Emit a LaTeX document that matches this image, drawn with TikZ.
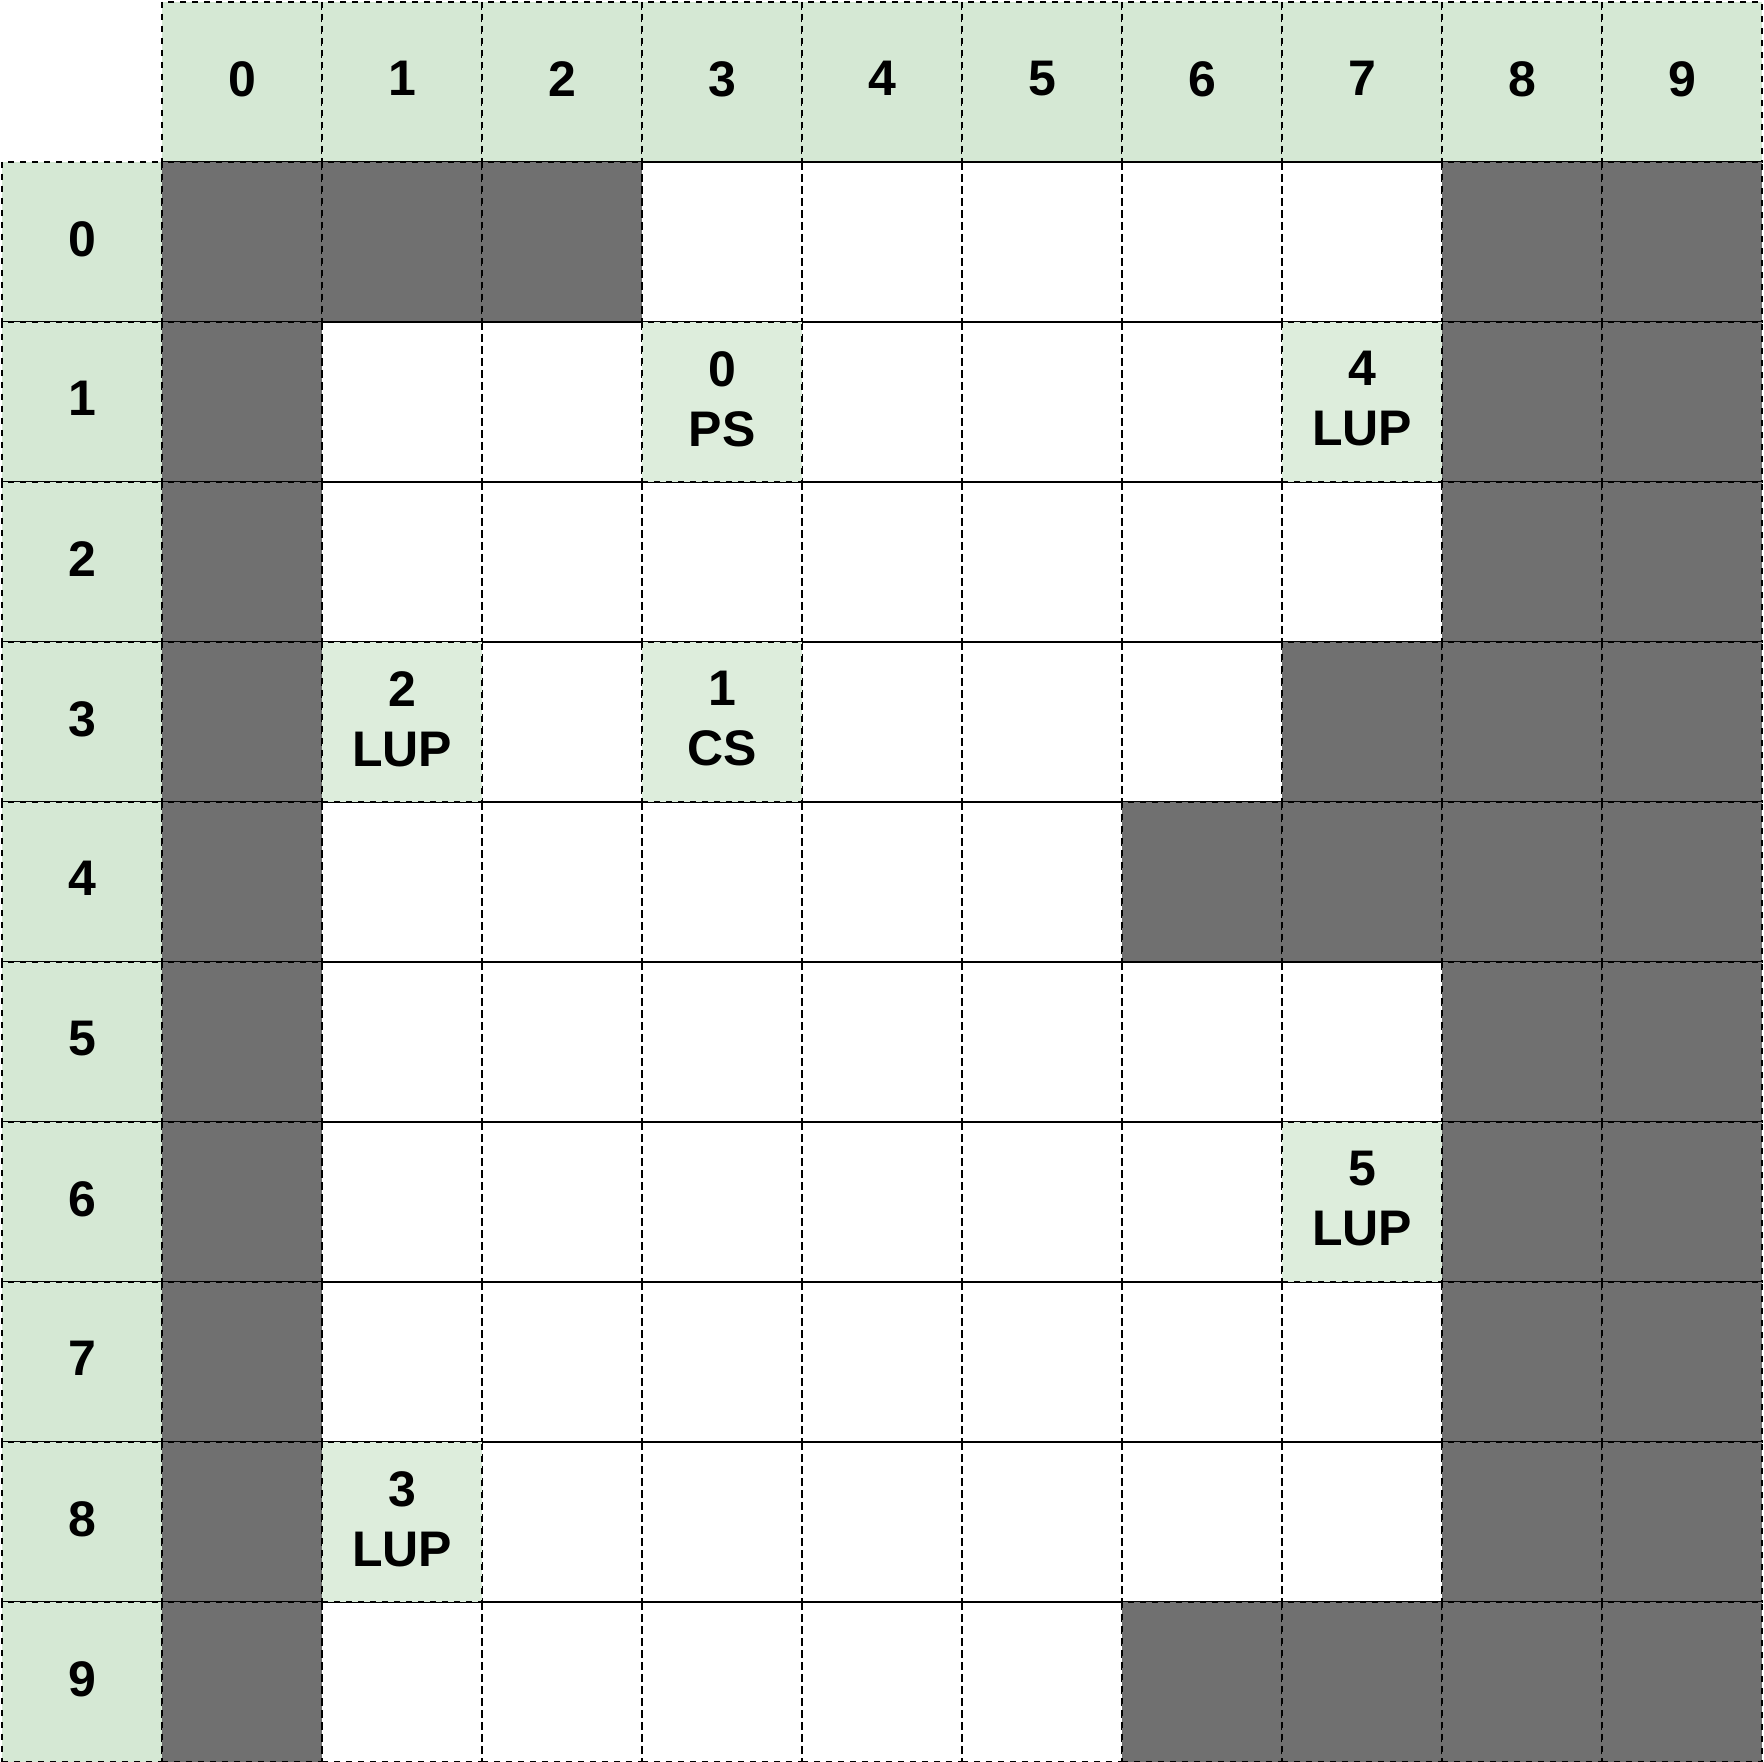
\documentclass[tikz,border=0pt]{standalone}
\usepackage{fontspec}
\setmainfont{Liberation Sans}
\usepackage{xcolor}
\usepackage{tikz}
\definecolor{HeadGreen}{RGB}{213,232,212}
\definecolor{TagGreen}{RGB}{221,237,220}
\definecolor{WallGray}{RGB}{112,112,112}
\definecolor{LineGray}{RGB}{51,51,51}
\tikzstyle{cell}=[rectangle,minimum size=40pt,inner sep=0pt,outer sep=0pt,draw=black,line width=0.5pt,dash pattern=on 1.5pt off 1.5pt,font=\fontsize{12.5}{15}\selectfont\bfseries,align=center,text depth=1.7pt]
\tikzstyle{head}=[cell,fill=HeadGreen]
\tikzstyle{wall}=[cell,fill=WallGray]
\tikzstyle{tag}=[cell,fill=TagGreen]
\tikzstyle{floorcell}=[cell]
\tikzset{rowline/.style={draw=LineGray,line width=0.5pt}}

\begin{document}
\begin{tikzpicture}[x=40pt,y=-40pt]
    \useasboundingbox (-0.5pt,0.5pt) rectangle (440.5pt,-440pt);

    % solid row lines
    \foreach \y in {3,...,10}
        \draw [rowline] (1,\y) -- (11,\y);

    % headers
    \foreach \i in {0,...,9} {
        \node [head] (h\i) at (\i+1.5,0.5) {\i};
        \node [head] (v\i) at (0.5,\i+1.5) {\i};
    }

    % 0 = floor, 1 = wall, 2 = tagged
    \foreach \r/\map in {0/{1,1,1,0,0,0,0,0,1,1},
                         1/{1,0,0,2,0,0,0,2,1,1},
                         2/{1,0,0,0,0,0,0,0,1,1},
                         3/{1,2,0,2,0,0,0,1,1,1},
                         4/{1,0,0,0,0,0,1,1,1,1},
                         5/{1,0,0,0,0,0,0,0,1,1},
                         6/{1,0,0,0,0,0,0,2,1,1},
                         7/{1,0,0,0,0,0,0,0,1,1},
                         8/{1,2,0,0,0,0,0,0,1,1},
                         9/{1,0,0,0,0,0,1,1,1,1}}
        \foreach \v [count=\c from 0] in \map {
            \ifnum\v=1 \node [wall] (c\r\c) at (\c+1.5,\r+1.5) {}; \fi
            \ifnum\v=0 \node [floorcell] (c\r\c) at (\c+1.5,\r+1.5) {}; \fi
        }

    \foreach \r/\c/\n/\t in {1/3/0/PS,1/7/4/LUP,3/1/2/LUP,3/3/1/CS,6/7/5/LUP,8/1/3/LUP}
        \node [tag] (c\r\c) at (\c+1.5,\r+1.5) {\n\\\t};

\end{tikzpicture}
\end{document}
